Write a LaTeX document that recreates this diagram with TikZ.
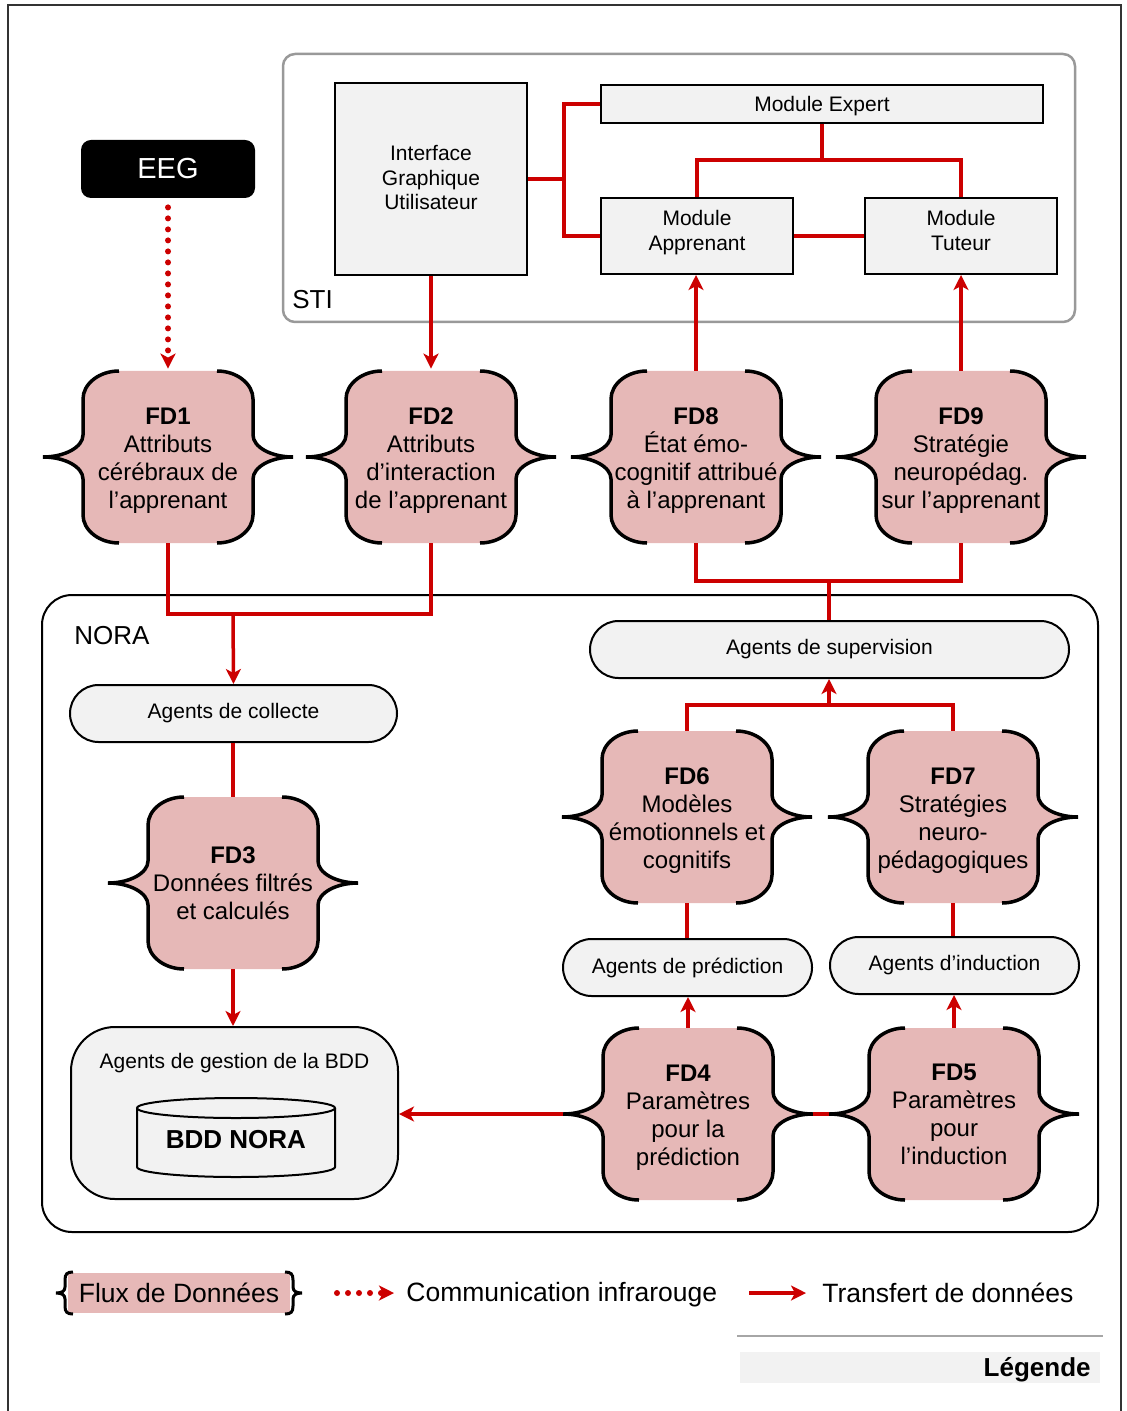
\documentclass[tikz,border=0pt]{standalone}
\usepackage{fontspec}
\setmainfont{Liberation Sans}
\usetikzlibrary{arrows.meta}
\definecolor{redc}{HTML}{CC0000}
\definecolor{pinkc}{HTML}{E6B8B7}
\definecolor{boxgray}{HTML}{F2F2F2}
\definecolor{stigray}{HTML}{999999}
\definecolor{framec}{HTML}{333333}
\definecolor{rulegray}{HTML}{A6A6A6}

% taller first line, balances a descender in the last line
\newcommand\fdtitle[1]{\rule{0pt}{12.3pt}\textbf{#1}}

\tikzset{
  redline/.style={draw=redc, line width=1.75pt},
  redarrow/.style={redline, -{Stealth[length=7.5pt,width=7.5pt,inset=2pt]}},
  dotarrow/.style={draw=redc, line width=3pt, line cap=round,
    dash pattern=on 0pt off 5.5pt,
    -{Stealth[length=7.5pt,width=7.5pt,inset=2pt]}},
  box/.style={draw=black, line width=1pt, fill=boxgray, inner sep=0pt,
    align=center, font=\fontsize{10.5}{12.5}\selectfont},
  pill/.style={box, rounded corners=14.25pt, minimum height=28.5pt},
  fdtext/.style={inner sep=0pt, minimum width=125pt, minimum height=86pt,
    align=center, font=\fontsize{12}{14}\selectfont},
  grouplabel/.style={anchor=west, inner sep=0pt, font=\fontsize{13}{15}\selectfont},
  legfont/.style={inner sep=0pt, font=\fontsize{13.25}{15}\selectfont},
  bracepen/.style={draw=black, line width=1.75pt},
  % curly-brace outline of a data flow, centred on the pic origin
  fdback/.pic={
    \fill[pinkc] (-49,-86) .. controls (-69,-86) and (-85,-73) .. (-85,-58)
      -- (-85,-22) .. controls (-85,-10) and (-103,0) .. (-125,0)
      .. controls (-103,0) and (-85,10) .. (-85,22)
      -- (-85,58) .. controls (-85,73) and (-69,86) .. (-49,86)
      -- (49,86) .. controls (69,86) and (85,73) .. (85,58)
      -- (85,22) .. controls (85,10) and (103,0) .. (125,0)
      .. controls (103,0) and (85,-10) .. (85,-22)
      -- (85,-58) .. controls (85,-73) and (69,-86) .. (49,-86) -- cycle;
    \draw[bracepen] (-49,-86) .. controls (-69,-86) and (-85,-73) .. (-85,-58)
      -- (-85,-22) .. controls (-85,-10) and (-103,0) .. (-125,0)
      .. controls (-103,0) and (-85,10) .. (-85,22)
      -- (-85,58) .. controls (-85,73) and (-69,86) .. (-49,86);
    \draw[bracepen] (49,86) .. controls (69,86) and (85,73) .. (85,58)
      -- (85,22) .. controls (85,10) and (103,0) .. (125,0)
      .. controls (103,0) and (85,-10) .. (85,-22)
      -- (85,-58) .. controls (85,-73) and (69,-86) .. (49,-86);
  }
}

\begin{document}
\begin{tikzpicture}[x=0.5pt,y=-0.5pt]
\useasboundingbox (0,0) rectangle (1127,1411);

% page frame
\draw[framec, line width=1pt] (8,1411) -- (8,5) -- (1121,5) -- (1121,1411);

% containers
\node[draw=stigray, line width=1.25pt, rounded corners=6pt, minimum width=396pt,
      minimum height=134pt, inner sep=0pt] (sti) at (679,188) {};
\node[grouplabel] (stilabel) at (292,300) {STI};
\node[draw=black, line width=1pt, rounded corners=15pt, minimum width=528pt,
      minimum height=318.5pt, inner sep=0pt] (nora) at (570,913.5) {};
\node[grouplabel] (noralabel) at (74,636) {NORA};

% tutoring system modules
\node[box, minimum width=96pt, minimum height=96pt] (igu) at (431,179) {};
\node[align=center, inner sep=0pt, font=\fontsize{10.5}{12.25}\selectfont] (igutext) at (431,178)
  {Interface\\Graphique\\Utilisateur};
\node[box, minimum width=221pt, minimum height=19pt] (expert) at (822,104) {};
\node[inner sep=0pt, font=\fontsize{10.5}{12.5}\selectfont] (experttext) at (822,106.5) {Module Expert};
\node[box, minimum width=96pt, minimum height=38pt] (appr) at (697,236) {};
\node[align=center, inner sep=0pt, font=\fontsize{10.5}{12.5}\selectfont] (apprtext) at (697,233) {Module\\Apprenant};
\node[box, minimum width=96pt, minimum height=38pt] (tut) at (961,236) {};
\node[align=center, inner sep=0pt, font=\fontsize{10.5}{12.5}\selectfont] (tuttext) at (961,230.5) {Module\\Tuteur};

% EEG source
\node[fill=black, text=white, rounded corners=5pt, minimum width=87pt, minimum height=29pt,
      inner sep=0pt, font=\fontsize{14.5}{16}\selectfont] (eeg) at (168,169) {EEG};

% data flows
\pic at (168,457) {fdback};
\node[fdtext] (fd1) at (168,457) {\fdtitle{FD1}\\Attributs\\cérébraux de\\l’apprenant};
\pic at (431,457) {fdback};
\node[fdtext] (fd2) at (431,457) {\fdtitle{FD2}\\Attributs\\d’interaction\\de l’apprenant};
\pic at (696,457) {fdback};
\node[fdtext] (fd8) at (696,457) {\fdtitle{FD8}\\État émo-\\cognitif attribué\\à l’apprenant};
\pic at (961,457) {fdback};
\node[fdtext] (fd9) at (961,457) {\fdtitle{FD9}\\Stratégie\\neuropédag.\\sur l’apprenant};
\pic at (233,883) {fdback};
\node[fdtext] (fd3) at (233,883) {\textbf{FD3}\\Données filtrés\\et calculés};
\pic at (687,817) {fdback};
\node[fdtext] (fd6) at (687,817) {\fdtitle{FD6}\\Modèles\\émotionnels et\\cognitifs};
\pic at (953,817) {fdback};
\node[fdtext] (fd7) at (953,817) {\fdtitle{FD7}\\Stratégies\\neuro-\\pédagogiques};
\pic at (688,1114) {fdback};
\node[fdtext] (fd4) at (688,1114) {\fdtitle{FD4}\\Paramètres\\pour la\\prédiction};
\pic at (954,1114) {fdback};
\node[fdtext] (fd5) at (954,1114) {\textbf{FD5}\\Paramètres\\pour\\l’induction};

% NORA agents
\node[pill, minimum width=163.5pt] (collecte) at (233.5,713.5) {Agents de collecte};
\node[pill, minimum width=239.5pt] (superv) at (829.5,649.5) {Agents de supervision};
\node[pill, minimum width=124.5pt] (pred) at (687.5,967.5) {Agents de prédiction};
\node[pill, minimum width=124.5pt] (ind) at (954.5,965.5) {Agents d’induction};

% database agents and store
\node[box, rounded corners=22pt, minimum width=163.5pt, minimum height=86pt] (bddbox) at (234.5,1113) {};
\node[inner sep=0pt, font=\fontsize{10.5}{12.5}\selectfont] (bddlabel) at (234.5,1063.5) {Agents de gestion de la BDD};
\fill[boxgray] (137,1108) -- (137,1167) arc[start angle=180, end angle=360, x radius=49.5pt, y radius=5pt]
  -- (335,1108) arc[start angle=0, end angle=180, x radius=49.5pt, y radius=5pt] -- cycle;
\draw[line width=1pt] (137,1108) -- (137,1167) arc[start angle=180, end angle=360, x radius=49.5pt, y radius=5pt]
  -- (335,1108);
\draw[line width=1pt, fill=boxgray] (236,1108) ellipse[x radius=49.5pt, y radius=5pt];
\node[inner sep=0pt, font=\fontsize{13}{15}\selectfont\bfseries] (bdd) at (236,1140) {BDD NORA};

% junction points
\coordinate (j1) at (564,179);
\coordinate (j2) at (822,160);
\coordinate (j3) at (233,614);
\coordinate (j4) at (829,581);
\coordinate (j5) at (829,705);

% connectors inside the tutoring system
\draw[redline] (igu.east) -- (j1);
\draw[redline] (expert.west) -| (j1) |- (appr.west);
\draw[redline] (expert.south) -- (j2);
\draw[redline] (appr.north) |- (j2) -| (tut.north);
\draw[redline] (appr.east) -- (tut.west);

% connectors between the systems
\draw[dotarrow, shorten <=4.5pt, shorten >=1pt] (eeg.south) -- (fd1.north);
\draw[redarrow, shorten >=1pt] (igu.south) -- (fd2.north);
\draw[redarrow] (fd8.north) -- (fd8.north |- appr.south);
\draw[redarrow] (fd9.north) -- (fd9.north |- tut.south);
\draw[redline] (fd1.south) |- (j3) -| (fd2.south);
\draw[redarrow] (j3) -- (collecte.north);
\draw[redline] (fd8.south) |- (j4) -| (fd9.south);
\draw[redline] (j4) -- (j4 |- superv.north);

% connectors inside NORA
\draw[redline] (collecte.south -| fd3.north) -- (fd3.north);
\draw[redarrow] (fd3.south) -- (fd3.south |- bddbox.north);
\draw[redline] (fd6.north) |- (j5) -| (fd7.north);
\draw[redarrow] (j5) -- (j5 |- superv.south);
\draw[redline] (fd6.south) -- (fd6.south |- pred.north);
\draw[redline] (fd7.south) -- (fd7.south |- ind.north);
\draw[redarrow] (fd4.north) -- (fd4.north |- pred.south);
\draw[redarrow] (fd5.north) -- (fd5.north |- ind.south);
\draw[redarrow] (fd4.west) -- (fd4.west -| bddbox.east);
\draw[redline] (fd4.east) -- (fd5.west);

% legend
\fill[pinkc] (68,1273) rectangle (290,1313);
\draw[bracepen, line width=1.5pt] (73,1272) .. controls (67,1272) and (65,1274) .. (65,1280) -- (65,1287)
  .. controls (65,1291) and (62,1293) .. (56,1293) .. controls (62,1293) and (65,1295) .. (65,1299)
  -- (65,1306) .. controls (65,1312) and (67,1314) .. (73,1314);
\draw[bracepen, line width=1.5pt] (285,1272) .. controls (291,1272) and (293,1274) .. (293,1280) -- (293,1287)
  .. controls (293,1291) and (296,1293) .. (302,1293) .. controls (296,1293) and (293,1295) .. (293,1299)
  -- (293,1306) .. controls (293,1312) and (291,1314) .. (285,1314);
\node[legfont] (legflux) at (179,1293) {Flux de Données};
\coordinate (ld1) at (337,1293);
\coordinate (ld2) at (394,1293);
\draw[dotarrow] (ld1) -- (ld2);
\node[legfont, anchor=west] (legir) at (406,1295) {Communication infrarouge};
\coordinate (ls1) at (749,1293);
\coordinate (ls2) at (806,1293);
\draw[redarrow] (ls1) -- (ls2);
\node[legfont, anchor=west] (legtr) at (822,1293) {Transfert de données};
\draw[rulegray, line width=1pt] (737,1336) -- (1103,1336);
\node[fill=boxgray, minimum width=180pt, minimum height=15.5pt, inner sep=0pt] (legbox) at (920,1367.5) {};
\node[anchor=east, inner sep=0pt, font=\fontsize{13}{15}\selectfont\bfseries] (legtitle) at (1091,1370) {Légende};
\end{tikzpicture}
\end{document}
